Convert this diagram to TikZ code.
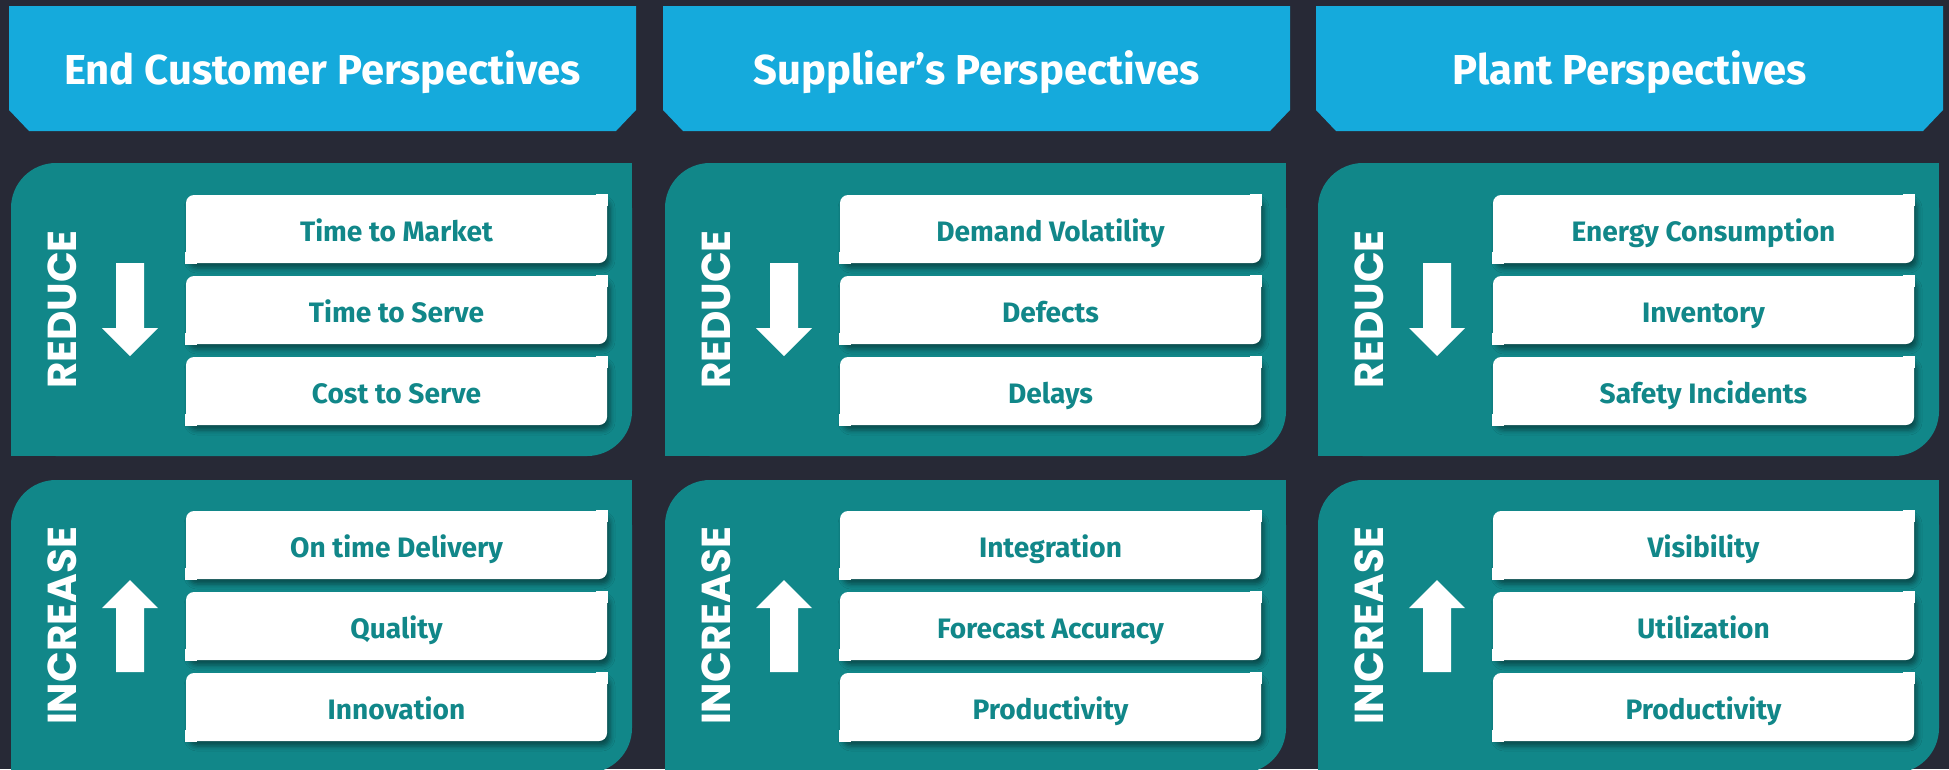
\documentclass[tikz,border=0pt]{standalone}
\usepackage{fontspec}
\setmainfont{Fira Sans}
\newfontfamily\trendfont{Poppins}
\usetikzlibrary{shadows.blur}

\begin{document}
\begin{tikzpicture}[x=0.1mm, y=-0.1mm,
    perspective/.style={text=white, text height=2.9mm, text depth=0pt,
        font=\bfseries\fontsize{11.9}{14}\selectfont},
    kpi/.style={rectangle, fill=white, minimum width=42.1mm, minimum height=6.8mm,
        inner sep=0pt, rounded corners=0.8mm, text=kpiteal,
        text height=2.44mm, text depth=0pt,
        font=\bfseries\fontsize{8}{10}\selectfont,
        blur shadow={shadow xshift=0.3mm, shadow yshift=-0.5mm,
            shadow blur radius=0.5mm, shadow opacity=45}},
    trend/.style={text=white, rotate=90, font=\trendfont\bfseries\fontsize{11.5}{13}\selectfont}
]

% Colores
\definecolor{kpibg}{RGB}{39, 41, 54}
\definecolor{kpiblue}{RGB}{21, 170, 220}
\definecolor{kpiteal}{RGB}{17, 135, 137}

% Macro para el marco de cada columna (cabecera, dos paneles, flechas)
\newcommand{\drawpanels}{%
    \fill[kpiblue] (9,6) -- (636,6) -- (636,110) -- (616,131) -- (29,131) -- (9,110) -- cycle;
    % panel superior: solo esquinas sup. izq. e inf. der. redondeadas
    \fill[kpiteal, rounded corners=4.5mm] (11,163) rectangle (632,456);
    \fill[kpiteal] (582,163) rectangle (632,213);
    \fill[kpiteal] (11,406) rectangle (61,456);
    % panel inferior
    \fill[kpiteal, rounded corners=4.5mm] (11,480) rectangle (632,773);
    \fill[kpiteal] (582,480) rectangle (632,530);
    \fill[kpiteal] (11,723) rectangle (61,773);
    % flecha abajo / flecha arriba
    \fill[white] (116,263) -- (144,263) -- (144,328) -- (158,328) -- (130,356) -- (102,328) -- (116,328) -- cycle;
    \fill[white] (130,580) -- (158,608) -- (144,608) -- (144,672) -- (116,672) -- (116,608) -- (102,608) -- cycle;
}

% Caja blanca con esquinas sup. der. e inf. izq. rectas
\newcommand{\kpibox}[3]{%
    \node[kpi] (#1) at (396.5,#2) {#3};
    \fill[white] (#1.north east) rectangle ++(-12,12);
    \fill[white] (#1.south west) rectangle ++(12,-12);
}

\useasboundingbox (0,0) rectangle (1949,769);
\fill[kpibg] (0,0) rectangle (1949,769);

% ============ COLUMNA 1: cliente final ============
\begin{scope}[shift={(0,0)}]
    \drawpanels
    \node[perspective] (head1) at (322.5,70) {End Customer Perspectives};
    \node[trend] (red1) at (62,309.5) {REDUCE};
    \kpibox{r11}{229}{Time to Market}
    \kpibox{r12}{310}{Time to Serve}
    \kpibox{r13}{391}{Cost to Serve}
    \node[trend] (inc1) at (62,626) {INCREASE};
    \kpibox{i11}{545}{On time Delivery}
    \kpibox{i12}{626}{Quality}
    \kpibox{i13}{707}{Innovation}
\end{scope}

% ============ COLUMNA 2: proveedor ============
\begin{scope}[shift={(654,0)}]
    \drawpanels
    \node[perspective] (head2) at (322.5,70) {Supplier’s Perspectives};
    \node[trend] (red2) at (62,309.5) {REDUCE};
    \kpibox{r21}{229}{Demand Volatility}
    \kpibox{r22}{310}{Defects}
    \kpibox{r23}{391}{Delays}
    \node[trend] (inc2) at (62,626) {INCREASE};
    \kpibox{i21}{545}{Integration}
    \kpibox{i22}{626}{Forecast Accuracy}
    \kpibox{i23}{707}{Productivity}
\end{scope}

% ============ COLUMNA 3: planta ============
\begin{scope}[shift={(1307,0)}]
    \drawpanels
    \node[perspective] (head3) at (322.5,70) {Plant Perspectives};
    \node[trend] (red3) at (62,309.5) {REDUCE};
    \kpibox{r31}{229}{Energy Consumption}
    \kpibox{r32}{310}{Inventory}
    \kpibox{r33}{391}{Safety Incidents}
    \node[trend] (inc3) at (62,626) {INCREASE};
    \kpibox{i31}{545}{Visibility}
    \kpibox{i32}{626}{Utilization}
    \kpibox{i33}{707}{Productivity}
\end{scope}

\end{tikzpicture}
\end{document}
